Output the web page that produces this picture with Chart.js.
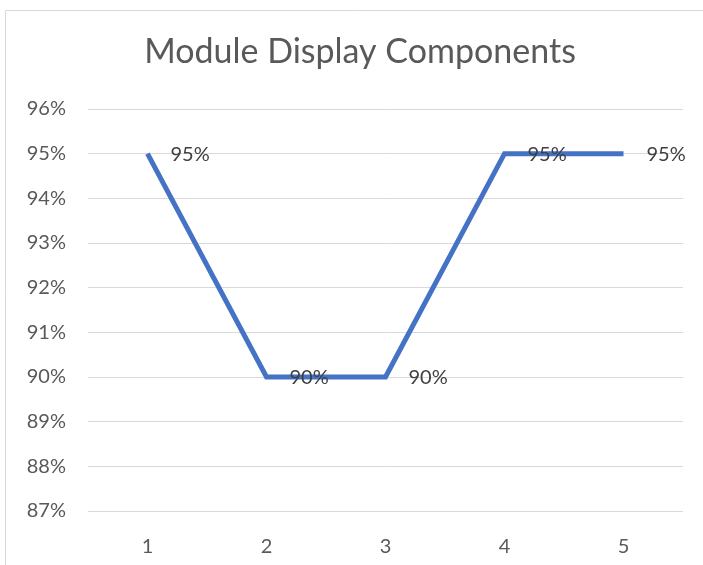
<!DOCTYPE html>
<html>
<head>
<meta charset="utf-8">
<script src="https://cdn.jsdelivr.net/npm/chart.js@4/dist/chart.umd.min.js"></script>
<style>
html,body{margin:0;padding:0;background:#fff;}
#wrap{width:703px;height:565px;position:relative;}
</style>
</head>
<body>
<div id="wrap"><canvas id="c" width="703" height="565"></canvas></div>
<script>
const categories = ['1', '2', '3', '4', '5'];
const values = [95, 90, 90, 95, 95];
const yMin = 87;
const yMax = 96;
const titleText = 'Module Display Components';

const FONT = "Lato, 'Open Sans', sans-serif";

const borderPlugin = {
  id: 'outerBorder',
  beforeDraw(chart) {
    const ctx = chart.ctx;
    ctx.save();
    ctx.fillStyle = '#fff';
    ctx.fillRect(0, 0, chart.width, chart.height);
    ctx.strokeStyle = '#D9D9D9';
    ctx.lineWidth = 1;
    ctx.beginPath();
    ctx.moveTo(5.5, chart.height + 2);
    ctx.lineTo(5.5, 10.5);
    ctx.lineTo(chart.width + 2, 10.5);
    ctx.stroke();
    ctx.restore();
  }
};

const titlePlugin = {
  id: 'offsetTitle',
  afterDraw(chart) {
    const ctx = chart.ctx;
    ctx.save();
    ctx.font = '34px ' + FONT;
    ctx.fillStyle = '#595959';
    ctx.textAlign = 'center';
    ctx.textBaseline = 'middle';
    ctx.fillText(titleText, 360, 52);
    ctx.restore();
  }
};

const labelPlugin = {
  id: 'pointLabels',
  afterDatasetsDraw(chart) {
    const ctx = chart.ctx;
    const meta = chart.getDatasetMeta(0);
    ctx.save();
    ctx.font = '20px ' + FONT;
    ctx.fillStyle = '#404040';
    ctx.textAlign = 'left';
    ctx.textBaseline = 'middle';
    meta.data.forEach((pt, i) => {
      ctx.fillText(values[i] + '%', pt.x + 23, pt.y + 1);
    });
    ctx.restore();
  }
};

new Chart(document.getElementById('c'), {
  type: 'line',
  data: {
    labels: categories,
    datasets: [{
      data: values,
      borderColor: '#4472C4',
      borderWidth: 5,
      pointRadius: 0,
      tension: 0,
      fill: false,
      borderCapStyle: 'butt',
      borderJoinStyle: 'miter'
    }]
  },
  options: {
    responsive: false,
    animation: false,
    devicePixelRatio: 1,
    layout: { padding: { left: 0, right: 20, top: 109, bottom: 0 } },
    plugins: {
      legend: { display: false },
      tooltip: { enabled: false },
      title: { display: false }
    },
    scales: {
      x: {
        offset: true,
        grid: { display: false, drawTicks: false },
        border: { display: false },
        ticks: { color: '#595959', font: { family: FONT, size: 20 }, padding: 24 },
        afterFit(scale) { scale.height = 54; }
      },
      y: {
        min: yMin,
        max: yMax,
        grid: { color: '#D9D9D9', lineWidth: 1, drawTicks: false },
        border: { display: false },
        ticks: {
          stepSize: 1,
          color: '#595959',
          font: { family: FONT, size: 20 },
          padding: 22,
          callback: v => v + '%'
        },
        afterFit(scale) { scale.width = 88; }
      }
    }
  },
  plugins: [borderPlugin, labelPlugin, titlePlugin]
});
</script>
</body>
</html>
